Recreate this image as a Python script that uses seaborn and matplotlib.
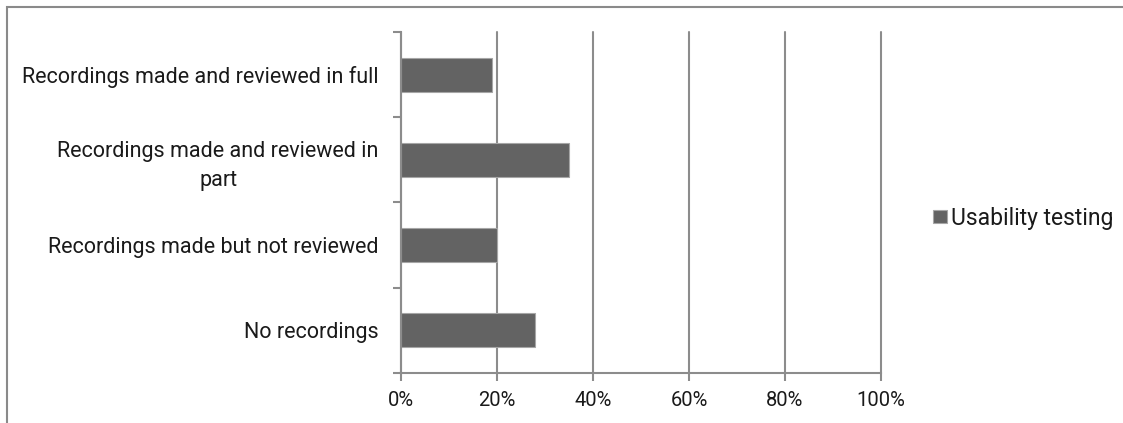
import matplotlib
matplotlib.use("Agg")
import matplotlib.pyplot as plt
from matplotlib.ticker import FixedLocator, NullFormatter, FixedFormatter
from matplotlib.patches import Rectangle
import seaborn as sns
import pandas as pd

# Share of usability-testing sessions by recording practice
categories = [
    "Recordings made and reviewed in full",
    "Recordings made and reviewed in\npart",
    "Recordings made but not reviewed",
    "No recordings",
]
shares = [19, 35, 20, 28]
series_name = "Usability testing"
x_ticks = [0, 20, 40, 60, 80, 100]
x_tick_labels = ["0%", "20%", "40%", "60%", "80%", "100%"]

df = pd.DataFrame({"category": categories, "share": shares,
                   "series": [series_name] * len(categories)})

sns.set_theme(style="white")
plt.rcParams["font.family"] = ["Roboto", "DejaVu Sans"]

W, H, DPI = 1123, 423, 100
fig = plt.figure(figsize=(W / DPI, H / DPI), dpi=DPI)
ax = fig.add_axes([401 / W, 1 - 373 / H, (881 - 401) / W, (373 - 32) / H])

grey = "#8c8c8c"
text_col = "#1a1a1a"
sns.barplot(data=df, x="share", y="category", hue="series", orient="h",
            palette=["#636363"], width=0.4, edgecolor="#a6a6a6", linewidth=0.8,
            order=categories, ax=ax, legend=True, zorder=3)

ax.set_xlim(0, 100)
ax.set_ylim(len(categories) - 0.5, -0.5)
ax.set_xlabel("")
ax.set_ylabel("")

# x axis: percentage ticks with vertical gridlines
ax.xaxis.set_major_locator(FixedLocator(x_ticks))
ax.xaxis.set_major_formatter(FixedFormatter(x_tick_labels))
ax.grid(axis="x", color=grey, linewidth=1.5, zorder=0)
ax.grid(axis="y", visible=False)
for gl in ax.get_xgridlines():
    gl.set_clip_on(False)
ax.tick_params(axis="x", which="major", direction="out", length=6, width=1.5,
               color=grey, labelsize=14.5, labelcolor=text_col, pad=7, bottom=True)

# y axis: ticks at category boundaries, labels centred between them
ax.yaxis.set_major_locator(FixedLocator([i - 0.5 for i in range(len(categories) + 1)]))
ax.yaxis.set_major_formatter(NullFormatter())
ax.yaxis.set_minor_locator(FixedLocator(list(range(len(categories)))))
ax.yaxis.set_minor_formatter(FixedFormatter(categories))
ax.tick_params(axis="y", which="major", direction="out", length=6, width=1.5,
               color=grey, left=True)
ax.tick_params(axis="y", which="minor", length=0, labelsize=15.5,
               labelcolor=text_col, pad=16)
for lbl in ax.get_yticklabels(minor=True):
    lbl.set_multialignment("center")
    lbl.set_linespacing(1.45)

for side in ("top", "right"):
    ax.spines[side].set_visible(False)
for side in ("left", "bottom"):
    ax.spines[side].set_color(grey)
    ax.spines[side].set_linewidth(1.5)
    ax.spines[side].set_zorder(4)

handles, labels = ax.get_legend_handles_labels()
ax.get_legend().remove()
fig.legend(handles, labels, loc="center left", bbox_to_anchor=(933 / W, 1 - 218 / H),
           frameon=False, fontsize=16.5, handlelength=0.6, handleheight=0.5,
           handletextpad=0.2, borderaxespad=0, borderpad=0, labelcolor=text_col)

# chart area border
fig.patches.append(Rectangle((7 / W, -0.1), 1.2, 1 - 7 / H + 0.1,
                             transform=fig.transFigure, fill=False,
                             edgecolor="#8a8a8a", linewidth=1.5))

fig.savefig("out.png", dpi=DPI)
